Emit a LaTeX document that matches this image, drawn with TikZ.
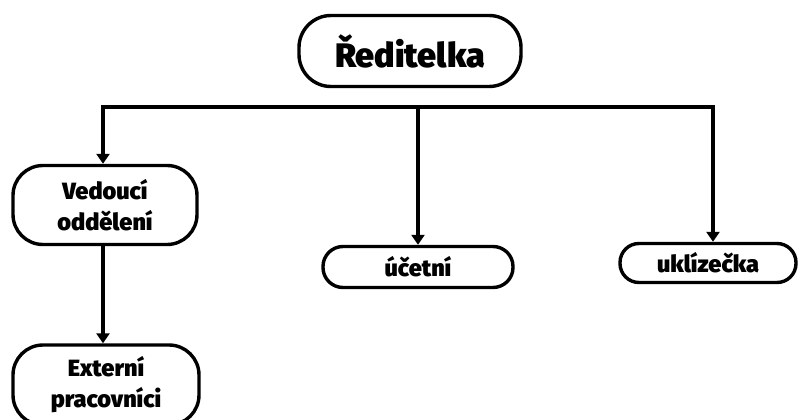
\documentclass[tikz,border=0pt]{standalone}
\usepackage{fontspec}
\setmainfont{Fira Sans}[BoldFont={Fira Sans Black}]
\usetikzlibrary{arrows.meta}
\begin{document}
\begin{tikzpicture}[x=1pt,y=-1pt,
  box/.style={draw=black, line width=3.4pt, fill=white, inner sep=0pt,
    align=center, font=\bfseries},
  small/.style={font=\bfseries\fontsize{23.5}{31}\selectfont},
  link/.style={line width=3.4pt, line cap=butt},
  arr/.style={link, -{Triangle[width=13pt,length=10pt]}}
]
\useasboundingbox (0,0) rectangle (798,420);

% boxes
\node[box, minimum width=222pt, minimum height=71pt, rounded corners=32pt,
  font=\bfseries\fontsize{34}{36}\selectfont] (boss) at (410,51) {Ředitelka};
\node[box, small, minimum width=184pt, minimum height=79pt, rounded corners=30pt]
  (ved) at (105,205) {Vedoucí\\oddělení};
\node[box, small, minimum width=186pt, minimum height=80pt, rounded corners=30pt]
  (ext) at (106,385) {Externí\\pracovníci};
\node[box, small, minimum width=190pt, minimum height=41pt, rounded corners=20pt]
  (uc) at (418,267) {účetní};
\node[box, small, minimum width=176pt, minimum height=39pt, rounded corners=19pt]
  (ukl) at (708,263) {uklízečka};

% distribution line
\coordinate (jl) at (103,107);
\coordinate (jm) at (418,107);
\coordinate (jr) at (713,107);
\draw[link] ([xshift=-1.7pt]jl) -- ([xshift=1.7pt]jr);

% arrows
\draw[arr] (jl) -- (jl |- ved.north);
\draw[arr] (jm) -- (uc.north);
\draw[arr] (jr) -- (jr |- ukl.north);
\draw[arr] (ved.south -| jl) -- (jl |- ext.north);
\end{tikzpicture}
\end{document}
